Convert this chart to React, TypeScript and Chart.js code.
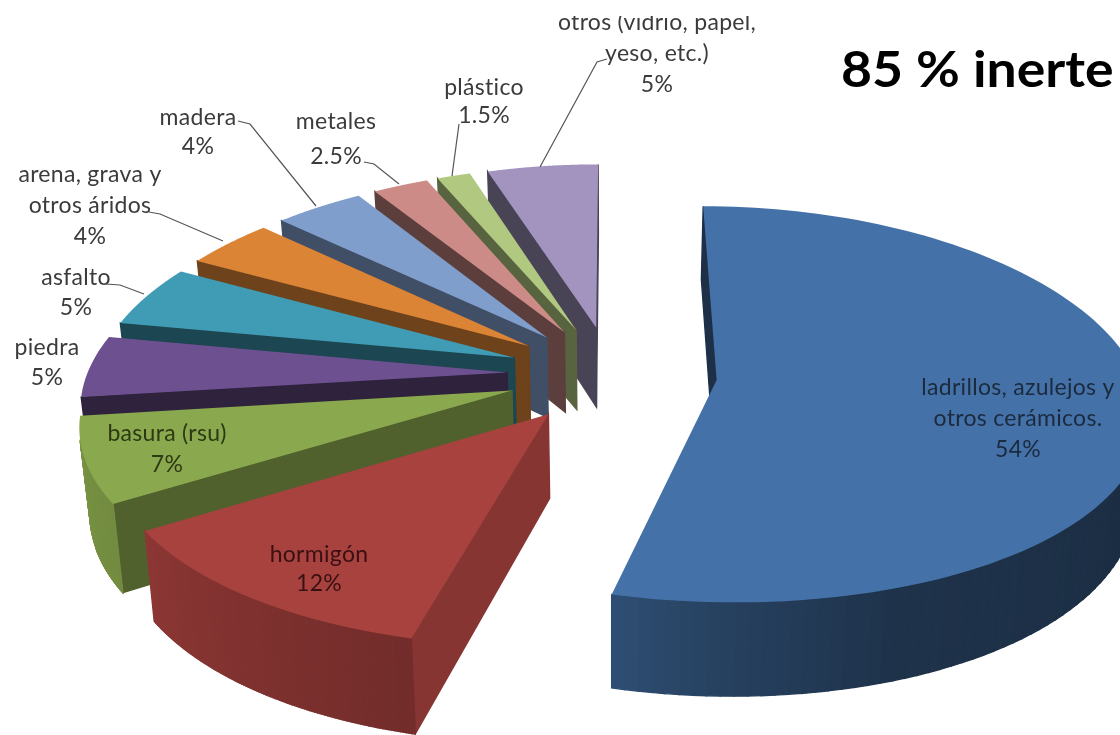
import React, { useEffect, useRef } from "react";
import { Chart, registerables } from "chart.js";

Chart.register(...registerables);

const categories = [
  "ladrillos, azulejos y otros cerámicos",
  "hormigón",
  "basura (rsu)",
  "piedra",
  "asfalto",
  "arena, grava y otros áridos",
  "madera",
  "metales",
  "plástico",
  "otros (vidrio, papel, yeso, etc.)",
];
const shares = [54, 12, 7, 5, 5, 4, 4, 2.5, 1.5, 5];
const sliceColors = ["#4472a8", "#a8423f", "#8aa84e", "#6d5090", "#3f9cb4", "#dc8436", "#7f9ecb", "#cd8b88", "#b0c87f", "#a294bf"];
const radialWallShade = [0.42, 0.8, 0.58, 0.42, 0.45, 0.5, 0.5, 0.45, 0.5, 0.45];
const labelColors = ["#1c2a3e", "#3a1012", "#2c3a14", "#3b3b3b", "#3b3b3b", "#3b3b3b", "#3b3b3b", "#3b3b3b", "#3b3b3b", "#3b3b3b"];
const labelLines = [
  ["ladrillos, azulejos y", "otros cerámicos."],
  ["hormigón"],
  ["basura (rsu)"],
  ["piedra"],
  ["asfalto"],
  ["arena, grava y", "otros áridos"],
  ["madera"],
  ["metales"],
  ["plástico"],
  ["otros (vidrio, papel,", "yeso, etc.)"],
];
const headline = "85 % inerte";

// layout of the annotation text: x centre, first baseline, line step
const labelLayout = [
  [1018, 395, 31],
  [319, 562, 29],
  [167, 441, 31],
  [47, 355, 30],
  [76, 285, 30],
  [90, 182, 31],
  [198, 125, 29],
  [336, 129, 35],
  [484, 95, 28],
  [657, 30, 31],
];
const leaders = [
  null, null, null, null,
  [[106, 284], [120, 285], [144, 294]],
  [[149, 212], [160, 214], [223, 241]],
  [[238, 121], [250, 124], [316, 206]],
  [[364, 162], [374, 164], [399, 184]],
  [[459, 124], [452, 176]],
  [[607, 59], [597, 62], [540, 167]],
];
// lighting of the outer wall: canvas angle in degrees, brightness factor
const wallLight = [[0, 0.38], [70, 0.44], [90, 0.56], [104, 0.68], [147, 0.83], [180, 0.9]];

const TILT = 0.461;
const PERSPECTIVE_Y = 0.00029;
const PERSPECTIVE_X = 0.00035;
const CONVERGE = 0.00024;
const DEPTH = 82;
const STEPS = 120;

function shade(hex: string, f: number) {
  const n = parseInt(hex.slice(1), 16);
  const c = [(n >> 16) & 255, (n >> 8) & 255, n & 255].map((v) => Math.round(v * f));
  return `rgb(${c[0]},${c[1]},${c[2]})`;
}

function lightAt(rad: number) {
  let d = ((rad * 180) / Math.PI) % 360;
  if (d < 0) d += 360;
  if (d > 180) return 0.4;
  for (let i = 1; i < wallLight.length; i++) {
    const [a0, f0] = wallLight[i - 1];
    const [a1, f1] = wallLight[i];
    if (d <= a1) return f0 + ((f1 - f0) * (d - a0)) / (a1 - a0);
  }
  return 0.9;
}

const pie3d = {
  id: "pie3d",
  beforeDatasetDraw(chart: any) {
    const ctx = chart.ctx;
    const meta = chart.getDatasetMeta(0);
    const order = meta.data
      .map((arc: any, i: number) => ({ arc, i, mid: (arc.startAngle + arc.endAngle) / 2 }))
      .sort((a: any, b: any) => Math.sin(a.mid) - Math.sin(b.mid));
    for (const { arc, i, mid } of order) {
      const base = arc.options.backgroundColor;
      const off = arc.options.offset;
      const R = arc.outerRadius;
      const ox = Math.cos(mid) * off;
      const oy = Math.sin(mid) * off;
      const project = (X: number, Y: number, Z: number): [number, number] => {
        const wx = 1 - PERSPECTIVE_X * Y;
        const wy = 1 - PERSPECTIVE_Y * Y;
        return [arc.x + (X / wx) * (1 - CONVERGE * Z), arc.y + (TILT * Y + Z) / wy];
      };
      const ring: [number, number, number][] = [];
      for (let k = 0; k <= STEPS; k++) {
        const a = arc.startAngle + ((arc.endAngle - arc.startAngle) * k) / STEPS;
        ring.push([ox + R * Math.cos(a), oy + R * Math.sin(a), a]);
      }
      const wall = (A: number[], B: number[], color: string) => {
        const p = [project(A[0], A[1], 0), project(B[0], B[1], 0), project(B[0], B[1], DEPTH), project(A[0], A[1], DEPTH)];
        let area = 0;
        for (let j = 0; j < 4; j++) {
          const q = p[(j + 1) % 4];
          area += p[j][0] * q[1] - q[0] * p[j][1];
        }
        if (area >= 0) return;
        ctx.beginPath();
        p.forEach((pt, j) => (j ? ctx.lineTo(pt[0], pt[1]) : ctx.moveTo(pt[0], pt[1])));
        ctx.closePath();
        ctx.fillStyle = color;
        ctx.strokeStyle = color;
        ctx.lineWidth = 1.4;
        ctx.fill();
        ctx.stroke();
      };
      wall([ox, oy], ring[0], shade(base, radialWallShade[i]));
      wall(ring[STEPS], [ox, oy], shade(base, radialWallShade[i]));
      for (let k = 0; k < STEPS; k++) {
        const a = (ring[k][2] + ring[k + 1][2]) / 2;
        wall(ring[k], ring[k + 1], shade(base, lightAt(a)));
      }
      ctx.beginPath();
      const apex = project(ox, oy, 0);
      ctx.moveTo(apex[0], apex[1]);
      ring.forEach((pt) => {
        const s = project(pt[0], pt[1], 0);
        ctx.lineTo(s[0], s[1]);
      });
      ctx.closePath();
      ctx.fillStyle = base;
      ctx.fill();
    }
    return false;
  },
  afterDraw(chart: any) {
    const ctx = chart.ctx;
    ctx.save();
    // the top of the first line is cut off in the scanned source
    ctx.beginPath();
    ctx.rect(0, 16, 1120, 719);
    ctx.clip();
    ctx.textAlign = "center";
    ctx.textBaseline = "alphabetic";
    ctx.font = "23px Lato";
    ctx.letterSpacing = "0.3px";
    categories.forEach((_, i) => {
      const [x, y, step] = labelLayout[i];
      const lines = [...labelLines[i], `${shares[i]}%`];
      ctx.fillStyle = labelColors[i];
      lines.forEach((t, j) => ctx.fillText(t, x, y + j * step));
      const path = leaders[i];
      if (path) {
        ctx.beginPath();
        path.forEach((p: number[], j: number) => (j ? ctx.lineTo(p[0], p[1]) : ctx.moveTo(p[0], p[1])));
        ctx.strokeStyle = "#555555";
        ctx.lineWidth = 1.2;
        ctx.stroke();
      }
    });
    ctx.fillStyle = "#000000";
    ctx.font = "bold 50px Lato";
    ctx.letterSpacing = "0px";
    ctx.textAlign = "left";
    ctx.translate(841, 87);
    ctx.scale(1.07, 1);
    ctx.fillText(headline, 0, 0);
    ctx.restore();
  },
};

export default function App() {
  const ref = useRef<HTMLCanvasElement>(null);
  useEffect(() => {
    const chart = new Chart(ref.current as HTMLCanvasElement, {
      type: "pie",
      data: {
        labels: categories,
        datasets: [{ data: shares, backgroundColor: sliceColors, borderWidth: 0, offset: 105 }],
      },
      options: {
        animation: false,
        responsive: false,
        devicePixelRatio: 1,
        radius: 420,
        layout: { padding: { left: 104, top: 13 } },
        plugins: { legend: { display: false }, tooltip: { enabled: false } },
      },
      plugins: [pie3d],
    } as any);
    return () => chart.destroy();
  }, []);
  return (
    <div style={{ position: "fixed", left: 0, top: 0, width: 1120, height: 735, background: "#fff", overflow: "hidden" }}>
      <canvas ref={ref} width={1120} height={735} style={{ display: "block", filter: "blur(0.5px)" }} />
    </div>
  );
}
